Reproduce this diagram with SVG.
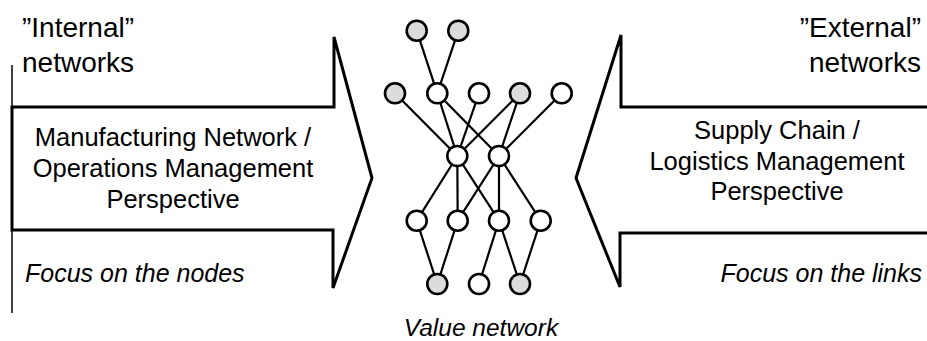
<svg xmlns="http://www.w3.org/2000/svg" width="927" height="341" viewBox="0 0 927 341">
<style>
text{font-family:"Liberation Sans",Arial,sans-serif;fill:#000}
.big{font-size:28px}
.mid{font-size:25.5px}
.it{font-size:25px;font-style:italic}
.arrow{fill:none;stroke:#000;stroke-width:3;stroke-linejoin:miter}
.edge{stroke:#000;stroke-width:2.2;fill:none}
.n{fill:#fff;stroke:#000;stroke-width:2.6}
.g{fill:#dcdcdc;stroke:#000;stroke-width:2.6}
</style>
<rect width="927" height="341" fill="#fff"/>
<g id="left-arrow">
<line x1="12" y1="65" x2="12" y2="313" stroke="#000" stroke-width="1.5"/>
<polygon class="arrow" points="12,107 334,107 334,37 372,178 333,288 333,230 12,230"/>
<text class="big" x="22" y="37">”Internal”</text>
<text class="big" x="22" y="72">networks</text>
<text class="mid" x="173" y="146" text-anchor="middle">Manufacturing Network /</text>
<text class="mid" x="173" y="177" text-anchor="middle">Operations Management</text>
<text class="mid" x="173" y="208" text-anchor="middle">Perspective</text>
<text class="it" x="25" y="282">Focus on the nodes</text>
</g>
<g id="right-arrow">
<polyline class="arrow" points="927,107 621,107 621,35 576,178 620,287 620,233 927,233"/>
<text class="big" x="921" y="37" text-anchor="end">”External”</text>
<text class="big" x="921" y="72" text-anchor="end">networks</text>
<text class="mid" x="777" y="139" text-anchor="middle">Supply Chain /</text>
<text class="mid" x="777" y="170" text-anchor="middle">Logistics Management</text>
<text class="mid" x="777" y="200" text-anchor="middle">Perspective</text>
<text class="it" x="922" y="282" text-anchor="end">Focus on the links</text>
</g>
<g id="connectors">
<line class="edge" x1="416.7" y1="30.7" x2="437.3" y2="93.3"/>
<line class="edge" x1="458.3" y1="30.7" x2="437.3" y2="93.3"/>
<line class="edge" x1="395" y1="93.3" x2="457.3" y2="156"/>
<line class="edge" x1="437.3" y1="93.3" x2="457.3" y2="156"/>
<line class="edge" x1="437.3" y1="93.3" x2="499" y2="156"/>
<line class="edge" x1="479" y1="93.3" x2="457.3" y2="156"/>
<line class="edge" x1="520" y1="93.3" x2="457.3" y2="156"/>
<line class="edge" x1="520" y1="93.3" x2="499" y2="156"/>
<line class="edge" x1="561.7" y1="93.3" x2="499" y2="156"/>
<line class="edge" x1="457.3" y1="156" x2="416.7" y2="220.7"/>
<line class="edge" x1="457.3" y1="156" x2="457.7" y2="220.7"/>
<line class="edge" x1="457.3" y1="156" x2="499" y2="220.7"/>
<line class="edge" x1="499" y1="156" x2="457.7" y2="220.7"/>
<line class="edge" x1="499" y1="156" x2="499" y2="220.7"/>
<line class="edge" x1="499" y1="156" x2="540.7" y2="220.7"/>
<line class="edge" x1="416.7" y1="220.7" x2="437.3" y2="284"/>
<line class="edge" x1="457.7" y1="220.7" x2="437.3" y2="284"/>
<line class="edge" x1="499" y1="220.7" x2="479" y2="284"/>
<line class="edge" x1="499" y1="220.7" x2="520" y2="284"/>
<line class="edge" x1="540.7" y1="220.7" x2="520" y2="284"/>
</g>
<g id="value-network">
<g id="n1a"><circle class="g" cx="416.7" cy="30.7" r="10"/></g>
<g id="n1b"><circle class="g" cx="458.3" cy="30.7" r="10"/></g>
<g id="n2a"><circle class="g" cx="395" cy="93.3" r="10"/></g>
<g id="n2b"><circle class="n" cx="437.3" cy="93.3" r="10"/></g>
<g id="n2c"><circle class="n" cx="479" cy="93.3" r="10"/></g>
<g id="n2d"><circle class="g" cx="520" cy="93.3" r="10"/></g>
<g id="n2e"><circle class="n" cx="561.7" cy="93.3" r="10"/></g>
<g id="n3a"><circle class="n" cx="457.3" cy="156" r="10"/></g>
<g id="n3b"><circle class="n" cx="499" cy="156" r="10"/></g>
<g id="n4a"><circle class="n" cx="416.7" cy="220.7" r="10"/></g>
<g id="n4b"><circle class="n" cx="457.7" cy="220.7" r="10"/></g>
<g id="n4c"><circle class="n" cx="499" cy="220.7" r="10"/></g>
<g id="n4d"><circle class="n" cx="540.7" cy="220.7" r="10"/></g>
<g id="n5a"><circle class="g" cx="437.3" cy="284" r="10"/></g>
<g id="n5b"><circle class="n" cx="479" cy="284" r="10"/></g>
<g id="n5c"><circle class="g" cx="520" cy="284" r="10"/></g>
<text class="it" x="481" y="336" text-anchor="middle" style="font-size:24.5px">Value network</text>
</g>
</svg>
